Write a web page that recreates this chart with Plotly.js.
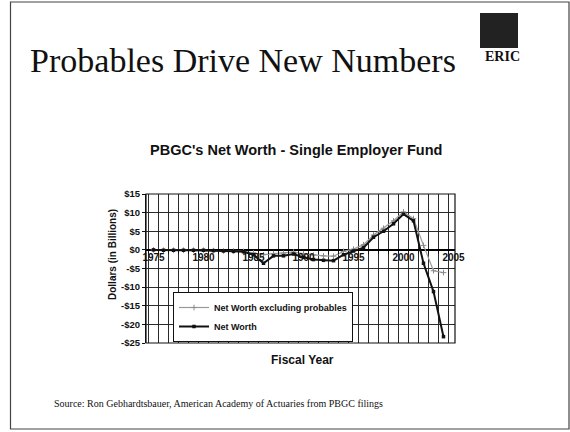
<!DOCTYPE html>
<html>
<head>
<meta charset="utf-8">
<script src="https://cdn.plot.ly/plotly-3.0.1.min.js"></script>
<style>html,body{margin:0;padding:0;background:#fff;}#chart{width:570px;height:432px;}</style>
</head>
<body>
<div id="chart"></div>
<script>
const years = [1975,1976,1977,1978,1979,1980,1981,1982,1983,1984,1985,1986,1987,1988,1989,1990,1991,1992,1993,1994,1995,1996,1997,1998,1999,2000,2001,2002,2003,2004];
const netWorth = [0.0,-0.1,-0.1,-0.1,-0.1,-0.1,-0.2,-0.3,-0.4,-0.5,-1.3,-3.6,-1.6,-1.6,-1.1,-2.0,-2.6,-2.8,-2.9,-1.3,-0.3,0.6,3.4,5.0,7.0,9.6,7.8,-3.6,-11.2,-23.3];
const netWorthExProbables = [0.0,-0.1,-0.1,-0.1,-0.1,-0.1,-0.2,-0.3,-0.3,-0.4,-0.8,-1.3,-1.0,-0.9,-0.6,-1.0,-1.4,-1.6,-1.7,-0.4,0.2,1.4,4.0,5.8,7.8,10.2,8.4,1.2,-5.6,-6.1];
const seriesNames = ['Net Worth excluding probables','Net Worth'];
const xTickVals = [1975,1980,1985,1990,1995,2000,2005];
const xTickText = ['1975','1980','1985','1990','1995','2000','2005'];
const yTickVals = [15,10,5,0,-5,-10,-15,-20,-25];
const yTickText = ['$15','$10','$5','$0','-$5','-$10','-$15','-$20','-$25'];

const W = 570, H = 432;
const M = {l:146, r:115, t:194, b:89};
const PW = W - M.l - M.r, PH = H - M.t - M.b;
const px = v => (v - M.l) / PW;
const py = v => (H - M.b - v) / PH;
const sans = 'Liberation Sans, Arial, sans-serif';
const serif = 'Liberation Serif, Times New Roman, serif';

const traces = [
  {x: years, y: netWorthExProbables, name: seriesNames[0], type: 'scatter', mode: 'lines+markers',
   line: {color: '#9a9a9a', width: 1.2},
   marker: {symbol: 'cross-thin-open', size: 4, color: '#8a8a8a', line: {color: '#8a8a8a', width: 1}}},
  {x: years, y: netWorth, name: seriesNames[1], type: 'scatter', mode: 'lines+markers',
   line: {color: '#111', width: 2},
   marker: {symbol: 'square', size: 3.5, color: '#111'}}
];

const layout = {
  width: W, height: H,
  margin: M,
  paper_bgcolor: '#fff', plot_bgcolor: '#fff',
  showlegend: true,
  title: {text: 'Probables Drive New Numbers', font: {family: serif, size: 34, color: '#111'},
          xref: 'container', yref: 'container', x: 243/W, xanchor: 'center', y: 1 - 60/H, yanchor: 'middle'},
  xaxis: {
    range: [1974.25, 2005.15], anchor: 'free', position: 25/40,
    tickvals: xTickVals, ticktext: xTickText, ticks: '',
    tickfont: {family: sans, size: 10, color: '#111', weight: 'bold'},
    showgrid: false, zeroline: false, showline: false,
    minor: {tick0: 1974.5, dtick: 1, showgrid: true, gridcolor: '#2a2a2a', gridwidth: 1, ticks: 'outside', ticklen: 3, tickcolor: '#111'}
  },
  yaxis: {
    range: [-25, 15], tickvals: yTickVals, ticktext: yTickText,
    ticks: 'outside', ticklen: 3, tickcolor: '#111',
    tickfont: {family: sans, size: 9.5, color: '#111', weight: 'bold'},
    showgrid: true, gridcolor: '#2a2a2a', gridwidth: 1,
    zeroline: true, zerolinecolor: '#000', zerolinewidth: 2,
    showline: true, linecolor: '#111', linewidth: 1
  },
  legend: {
    x: px(173), y: py(292), xanchor: 'left', yanchor: 'top',
    bgcolor: '#fff', bordercolor: '#111', borderwidth: 1,
    font: {family: sans, size: 9, color: '#111', weight: 'bold'},
    itemwidth: 30, tracegroupgap: 0
  },
  shapes: [
    {type: 'rect', xref: 'paper', yref: 'paper', x0: 0, x1: 1, y0: 0, y1: 1, line: {color: '#111', width: 1.2}},
    {type: 'rect', xref: 'paper', yref: 'paper', x0: px(10.5), x1: px(569), y0: py(429), y1: py(2), line: {color: '#444', width: 1.2}},
    {type: 'rect', xref: 'paper', yref: 'paper', x0: px(480), x1: px(518), y0: py(48), y1: py(13), fillcolor: '#222', line: {width: 0}}
  ],
  annotations: [
    {text: 'ERIC', xref: 'paper', yref: 'paper', x: px(502), y: py(56), xanchor: 'center', yanchor: 'middle', showarrow: false,
     font: {family: serif, size: 14, color: '#111', weight: 'bold'}},
    {text: "PBGC's Net Worth - Single Employer Fund", xref: 'paper', yref: 'paper', x: px(295.5), y: py(149.5), xanchor: 'center', yanchor: 'middle', showarrow: false,
     font: {family: sans, size: 14.5, color: '#111', weight: 'bold'}},
    {text: 'Dollars (in Billions)', xref: 'paper', yref: 'paper', x: px(112), y: py(255), xanchor: 'center', yanchor: 'middle', textangle: -90, showarrow: false,
     font: {family: sans, size: 10, color: '#111', weight: 'bold'}},
    {text: 'Fiscal Year', xref: 'paper', yref: 'paper', x: px(302), y: py(360), xanchor: 'center', yanchor: 'middle', showarrow: false,
     font: {family: sans, size: 12, color: '#111', weight: 'bold'}},
    {text: 'Source: Ron Gebhardtsbauer, American Academy of Actuaries from PBGC filings', xref: 'paper', yref: 'paper', x: px(52), y: py(403), xanchor: 'left', yanchor: 'middle', showarrow: false,
     font: {family: serif, size: 10, color: '#111'}}
  ]
};

Plotly.newPlot('chart', traces, layout, {displayModeBar: false, staticPlot: true});
</script>
</body>
</html>
